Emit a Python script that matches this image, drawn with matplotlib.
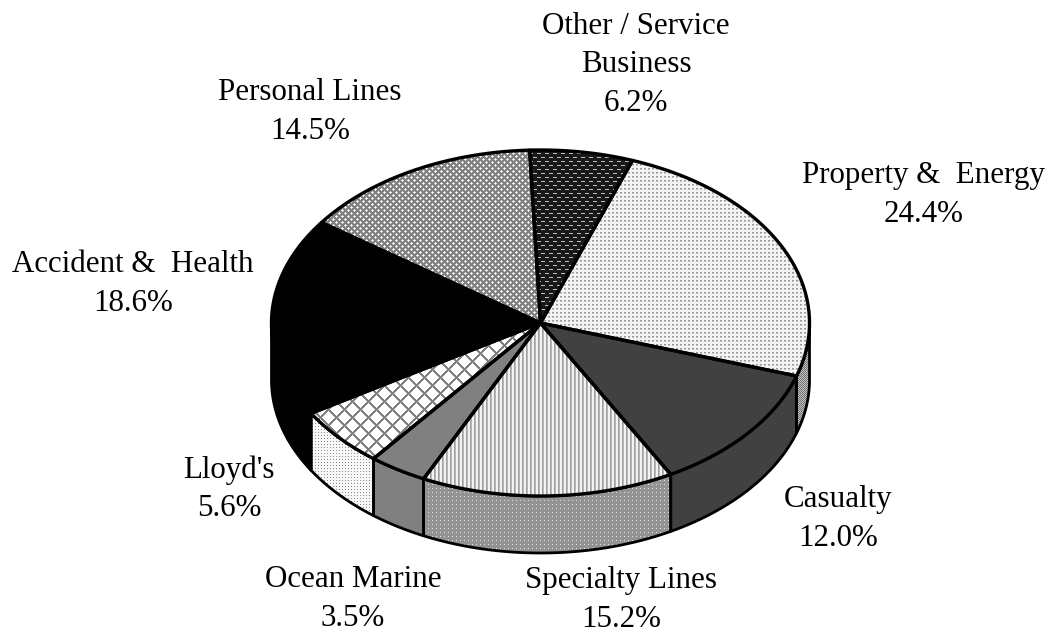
import numpy as np
import matplotlib
matplotlib.use("Agg")
import matplotlib.pyplot as plt
from matplotlib.patches import Polygon

# ===============================
# DATA (clockwise from start angle)
# ===============================
categorias = ["Property &  Energy", "Casualty", "Specialty Lines", "Ocean Marine",
              "Lloyd's", "Accident &  Health", "Personal Lines", "Other / Service\nBusiness"]
valores = [24.4, 12.0, 15.2, 3.5, 5.6, 18.6, 14.5, 6.2]

# ===============================
# LAYOUT
# ===============================
W, H = 1052, 633
cx, cy = 540.5, 323
rx, ry = 269, 173
depth = 57
inicio = 20.0

label_pos = [(924, 195), (838, 519), (621, 600), (353, 599),
             (229, 489), (133, 284), (310, 112), (636, 65)]


def tile_dots(n, fondo, punto):
    t = np.full((n, n), fondo)
    t[0, 0] = punto
    return t


def tile_property():
    t = np.full((4, 4), 0.95)
    t[0, 0:2] = 0.6
    t[1, 0:2] = 0.75
    return t


def tile_other():
    t = np.full((8, 8), 0.1)
    t[1, 1:5] = 0.75
    t[5, 5:8] = 0.75
    t[5, 0] = 0.75
    return t


def tile_personal():
    t = np.full((6, 6), 0.5)
    t[0, 0] = t[3, 3] = 1.0
    t[0, 1] = t[1, 0] = t[0, 5] = t[5, 0] = 0.9
    t[3, 4] = t[4, 3] = t[3, 2] = t[2, 3] = 0.9
    return t


def tile_diag(n):
    r, c = np.indices((n, n))
    t = np.full((n, n), 1.0)
    t[((r + c) % n < 3) | ((r - c) % n < 3)] = 0.5
    return t


top_tiles = [tile_property(), np.array([[0.26]]),
             np.array([[0.95, 0.95, 0.62, 0.72]]), np.array([[0.5]]),
             tile_diag(16), np.array([[0.0]]), tile_personal(), tile_other()]

side_tiles = [np.array([[0.45, 0.75], [0.75, 0.45]]), np.array([[0.26]]),
              tile_dots(4, 0.58, 0.88), np.array([[0.5]]),
              tile_dots(3, 0.97, 0.55), np.array([[0.0]]), None, None]


def arco(a0, a1):
    t = np.radians(np.linspace(a0, a1, 120))
    return cx + rx * np.sin(t), cy - ry * np.cos(t)


def textura(ax, tile, patch):
    reps = (H // tile.shape[0] + 1, W // tile.shape[1] + 1)
    img = np.tile(tile, reps)[:H, :W]
    im = ax.imshow(img, cmap="gray", vmin=0, vmax=1, extent=(0, W, H, 0),
                   interpolation="nearest", aspect="auto", zorder=patch.get_zorder())
    im.set_clip_path(patch)


fig = plt.figure(figsize=(W / 100, H / 100), dpi=100)
ax = fig.add_axes([0, 0, 1, 1])

angulos = inicio + np.concatenate([[0], np.cumsum(valores)]) * 3.6

# sides first, only the front part of the cylinder shows
for i in range(len(valores)):
    a0, a1 = max(angulos[i], 90), min(angulos[i + 1], 270)
    if a0 >= a1:
        continue
    x, y = arco(a0, a1)
    pts = np.column_stack([np.r_[x, x[::-1]], np.r_[y, y[::-1] + depth]])
    p = Polygon(pts, closed=True, facecolor="none", edgecolor="none", zorder=2)
    ax.add_patch(p)
    textura(ax, side_tiles[i], p)
    ax.add_patch(Polygon(pts, closed=True, facecolor="none", edgecolor="black",
                         linewidth=2.0, joinstyle="round", zorder=3))

# top face
for i in range(len(valores)):
    x, y = arco(angulos[i], angulos[i + 1])
    pts = np.column_stack([np.r_[cx, x], np.r_[cy, y]])
    p = Polygon(pts, closed=True, facecolor="none", edgecolor="none", zorder=4)
    ax.add_patch(p)
    textura(ax, top_tiles[i], p)
    ax.add_patch(Polygon(pts, closed=True, facecolor="none", edgecolor="black",
                         linewidth=2.4, joinstyle="round", zorder=5))

for nombre, v, (lx, ly) in zip(categorias, valores, label_pos):
    ax.text(lx, ly, f"{nombre}\n{v:.1f}%", ha="center", va="center", ma="center",
            fontsize=22.3, family="Liberation Serif", linespacing=1.42, color="black", zorder=6)

ax.set_xlim(0, W)
ax.set_ylim(H, 0)
ax.axis("off")
fig.savefig("out.png", dpi=100, facecolor="white")
